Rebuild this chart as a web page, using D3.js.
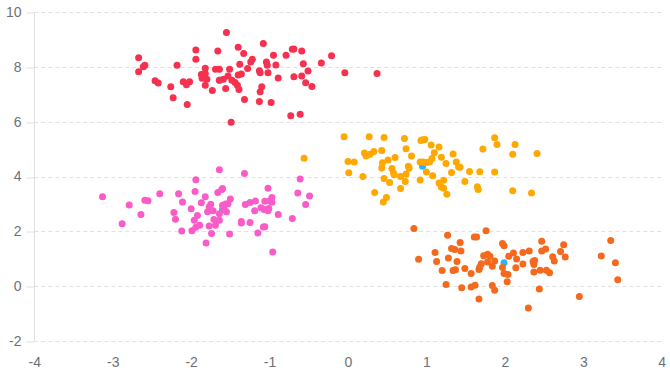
<!DOCTYPE html>
<html>
<head>
<meta charset="utf-8">
<script src="https://cdn.jsdelivr.net/npm/d3@7"></script>
<style>
html,body{margin:0;padding:0;background:#fff;}
svg{display:block;}
text{font-family:"Liberation Sans",Arial,sans-serif;}
</style>
</head>
<body>
<svg id="chart" width="670" height="377"></svg>
<script>
// tick values
const xTicks = [-4, -3, -2, -1, 0, 1, 2, 3, 4];
const yTicks = [-2, 0, 2, 4, 6, 8, 10];

// cluster centroids (blue)
const centroids = [[-1.64, 7.51], [0.95, 4.37], [-1.60, 2.80], [1.99, 0.85]];

// cluster A (red)
const clusterRed = [
[-2.67,8.33],[-2.67,7.82],[-2.61,8.00],[-2.59,8.06],[-2.46,7.49],[-2.42,7.41],[-2.26,7.27],[-2.23,6.87],
[-2.18,8.06],[-2.10,7.46],[-2.06,7.35],[-2.02,7.46],[-2.05,6.63],[-1.94,8.61],[-1.94,8.28],[-1.82,7.95],
[-1.87,7.72],[-1.83,7.63],[-1.86,7.58],[-1.80,7.55],[-1.82,7.76],[-1.82,7.33],[-1.73,7.14],[-1.66,8.58],
[-1.69,7.91],[-1.64,7.91],[-1.64,7.51],[-1.59,7.55],[-1.55,9.25],[-1.56,7.21],[-1.51,7.91],[-1.53,7.67],
[-1.48,7.51],[-1.44,7.43],[-1.41,7.33],[-1.39,7.17],[-1.40,8.71],[-1.38,8.09],[-1.40,7.70],[-1.36,7.74],
[-1.33,8.49],[-1.32,6.81],[-1.28,7.94],[-1.24,8.18],[-1.22,8.28],[-1.49,5.98],[-1.13,7.86],[-1.12,7.78],
[-1.10,7.27],[-1.12,7.09],[-1.13,6.74],[-1.08,8.85],[-1.04,8.18],[-1.03,8.06],[-1.02,7.78],[-0.98,6.70],
[-0.95,8.42],[-0.92,8.07],[-0.89,7.59],[-0.79,8.42],[-0.73,6.22],[-0.71,8.64],[-0.69,8.65],[-0.69,7.64],
[-0.61,6.27],[-0.59,8.58],[-0.57,8.11],[-0.59,7.67],[-0.54,7.42],[-0.51,7.85],[-0.46,7.28],[-0.34,8.14],
[-0.21,8.40],[-0.04,7.78],[0.37,7.76]
];

// cluster B (amber)
const clusterAmber = [
[-0.56,4.67],[-0.05,5.45],[0.00,4.55],[0.01,4.14],[0.08,4.53],[0.19,4.00],[0.21,4.86],[0.23,4.75],
[0.28,4.81],[0.27,5.45],[0.33,4.91],[0.34,3.42],[0.43,4.95],[0.44,4.50],[0.43,4.31],[0.46,3.93],
[0.46,5.42],[0.45,3.07],[0.49,3.23],[0.51,4.60],[0.53,3.78],[0.56,4.29],[0.58,4.13],[0.59,4.06],
[0.60,4.69],[0.67,4.00],[0.67,3.56],[0.72,5.39],[0.74,5.01],[0.73,3.82],[0.74,4.09],[0.77,4.37],
[0.78,4.30],[0.81,4.75],[0.92,3.87],[0.92,4.53],[0.96,4.53],[1.00,4.51],[1.04,4.53],[1.07,4.66],
[0.93,5.31],[0.95,5.34],[0.98,5.35],[1.00,4.16],[1.06,5.15],[1.08,4.03],[1.10,4.87],[1.16,5.08],
[1.16,3.76],[1.19,4.70],[1.19,3.62],[1.22,3.86],[1.22,3.57],[1.25,4.47],[1.26,3.35],[1.32,4.15],
[1.34,4.82],[1.38,4.53],[1.41,4.35],[1.43,4.34],[1.49,3.82],[1.55,4.18],[1.65,3.63],[1.66,3.53],
[1.68,4.17],[1.72,5.00],[1.87,5.41],[1.90,5.17],[1.87,4.16],[2.10,4.81],[2.13,5.17],[2.10,3.48],
[2.34,3.40],[2.41,4.84]
];

// cluster C (pink)
const clusterPink = [
[-3.13,3.26],[-2.88,2.28],[-2.79,2.96],[-2.64,2.61],[-2.59,3.13],[-2.55,3.12],[-2.40,3.37],[-2.22,2.69],
[-2.20,2.44],[-2.16,3.37],[-2.11,3.07],[-2.12,2.01],[-2.00,2.82],[-1.99,2.02],[-1.95,3.45],[-1.94,3.88],
[-1.96,2.40],[-1.92,2.58],[-1.94,2.15],[-1.89,2.22],[-1.87,3.04],[-1.82,3.26],[-1.81,1.57],[-1.79,2.71],
[-1.77,2.19],[-1.77,2.89],[-1.75,2.99],[-1.72,2.75],[-1.74,1.92],[-1.71,2.43],[-1.69,2.22],[-1.64,4.25],
[-1.66,3.42],[-1.64,2.64],[-1.64,2.40],[-1.61,3.53],[-1.60,3.56],[-1.60,2.95],[-1.56,3.00],[-1.53,3.01],
[-1.58,2.80],[-1.55,2.71],[-1.51,1.90],[-1.50,3.18],[-1.36,2.36],[-1.36,2.30],[-1.32,4.11],[-1.31,2.98],
[-1.25,2.32],[-1.25,3.05],[-1.18,3.11],[-1.19,2.75],[-1.15,1.94],[-1.11,2.86],[-1.08,2.16],[-1.06,2.17],
[-1.06,3.10],[-1.07,2.80],[-1.02,2.75],[-1.02,3.57],[-1.00,3.11],[-1.01,2.83],[-0.97,3.23],[-0.97,3.06],
[-0.96,1.25],[-0.89,2.61],[-0.71,2.47],[-0.64,3.40],[-0.61,3.91],[-0.54,2.98],[-0.49,3.29]
];

// cluster D (orange)
const clusterOrange = [
[0.84,2.10],[0.90,0.98],[1.11,1.23],[1.13,0.90],[1.20,0.57],[1.25,0.06],[1.27,1.86],[1.28,1.03],
[1.32,1.37],[1.36,1.34],[1.34,0.57],[1.37,0.60],[1.39,0.90],[1.43,1.59],[1.44,1.28],[1.45,-0.06],
[1.49,0.64],[1.57,0.46],[1.57,-0.03],[1.62,0.03],[1.61,1.79],[1.64,1.79],[1.67,-0.47],[1.67,0.61],
[1.68,0.70],[1.70,0.82],[1.73,1.11],[1.78,1.16],[1.81,1.09],[1.76,2.02],[1.78,0.88],[1.84,0.73],
[1.87,0.92],[1.84,0.02],[1.87,-0.15],[1.97,1.56],[1.99,1.47],[1.97,0.68],[1.99,0.46],[2.04,0.43],
[2.03,0.16],[2.05,1.09],[2.11,1.21],[2.15,0.99],[2.14,0.67],[2.23,0.81],[2.23,1.23],[2.31,1.28],
[2.30,-0.80],[2.36,0.90],[2.37,0.79],[2.38,0.94],[2.37,0.52],[2.44,-0.10],[2.45,0.58],[2.47,1.64],
[2.47,1.28],[2.52,1.36],[2.53,0.58],[2.57,0.49],[2.61,1.07],[2.63,0.92],[2.71,1.26],[2.75,1.51],
[2.77,1.06],[2.95,-0.38],[3.23,1.10],[3.35,1.67],[3.41,0.85],[3.44,0.23]
];

const seriesList = [
  {data: centroids, color: "#2ab4f5"},
  {data: clusterRed, color: "#f6304f"},
  {data: clusterAmber, color: "#ffa800"},
  {data: clusterPink, color: "#f95cc8"},
  {data: clusterOrange, color: "#f5691d"}
];

const svg = d3.select("#chart");
const margin = {left: 34.3, right: 8.3, top: 12, bottom: 36};
const W = 670, H = 377;

const x = d3.scaleLinear().domain([-4, 4]).range([margin.left, W - margin.right]);
const y = d3.scaleLinear().domain([-2, 10]).range([H - margin.bottom, margin.top]);

// grid lines
const grid = svg.append("g");
grid.selectAll("line").data(yTicks).enter().append("line")
  .attr("x1", x(-4)).attr("x2", x(4))
  .attr("y1", d => Math.round(y(d)) + 0.5).attr("y2", d => Math.round(y(d)) + 0.5)
  .attr("stroke", "#e0e0e0").attr("stroke-width", 1)
  .attr("stroke-dasharray", "4,3");

// y axis
const yAxis = d3.axisLeft(y).tickValues(yTicks).tickSize(8).tickPadding(5).tickFormat(d3.format("d"));
const gy = svg.append("g").attr("transform", `translate(${Math.round(x(-4)) + 0.5},0)`).call(yAxis);
gy.select(".domain").attr("stroke", "#e0e0e0").attr("d", `M0,${y(10)}V${y(-2)}`);
gy.selectAll(".tick line").attr("stroke", "#e0e0e0")
  .attr("transform", d => `translate(0,${Math.round(y(d)) + 0.5 - y(d)})`);
gy.selectAll("text").attr("fill", "#6e7079").attr("font-size", 14)
  .text(d => String(d).replace("\u2212", "-"));

// x axis
const xAxis = d3.axisBottom(x).tickValues(xTicks).tickSize(0).tickPadding(16).tickFormat(d3.format("d"));
const gx = svg.append("g").attr("transform", `translate(0,${y(-2)})`).call(xAxis);
gx.select(".domain").remove();
gx.selectAll("text").attr("fill", "#6e7079").attr("font-size", 14)
  .text(d => String(d).replace("\u2212", "-"));

// points
seriesList.forEach(s => {
  svg.append("g").selectAll("circle").data(s.data).enter().append("circle")
    .attr("cx", d => x(d[0])).attr("cy", d => y(d[1]))
    .attr("r", 3.5).attr("fill", s.color);
});
</script>
</body>
</html>
